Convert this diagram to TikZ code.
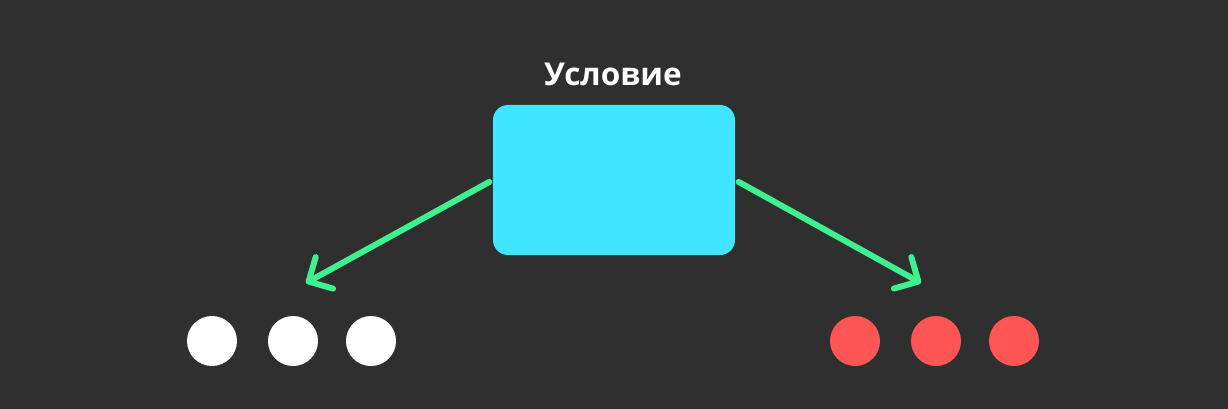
\documentclass[tikz,border=0pt]{standalone}
\usepackage{fontspec}
\usetikzlibrary{arrows.meta}
\newfontfamily\labelfont{Open Sans}
\definecolor{bgdark}{HTML}{2F2F2F}
\definecolor{condcyan}{HTML}{40E6FF}
\definecolor{arrowgreen}{HTML}{3EF08F}
\definecolor{dotred}{HTML}{FF5555}

\begin{document}
\begin{tikzpicture}[x=1pt, y=-1pt,
        dot/.style={circle, minimum size=50pt, inner sep=0pt},
        branch/.style={arrowgreen, line width=6pt, line cap=round,
            -{Straight Barb[length=18pt, width=36pt, round]}, shorten <=4pt}]
                \fill[bgdark] (0,0) rectangle (1228,409);
                \useasboundingbox (0,0) rectangle (1228,409);
                \node[fill=condcyan, rounded corners=15pt, minimum width=242pt, minimum height=150pt] (cond) at (614,180) {};
                \node[text=white, anchor=base, font=\labelfont\bfseries\fontsize{31.5}{36}\selectfont] (condlabel) at (613,85.5) {Условие};
                \foreach \x [count=\i] in {212,293,371} {
                    \node[dot, fill=white] (yes\i) at (\x,341) {};
                }
                \foreach \x [count=\i] in {855,936,1014} {
                    \node[dot, fill=dotred] (no\i) at (\x,341) {};
                }
                \coordinate (yestip) at (306,283);
                \coordinate (notip) at (921,283);
                \draw[branch] (cond.west) -- (yestip);
                \draw[branch] (cond.east) -- (notip);
            \end{tikzpicture}
\end{document}
